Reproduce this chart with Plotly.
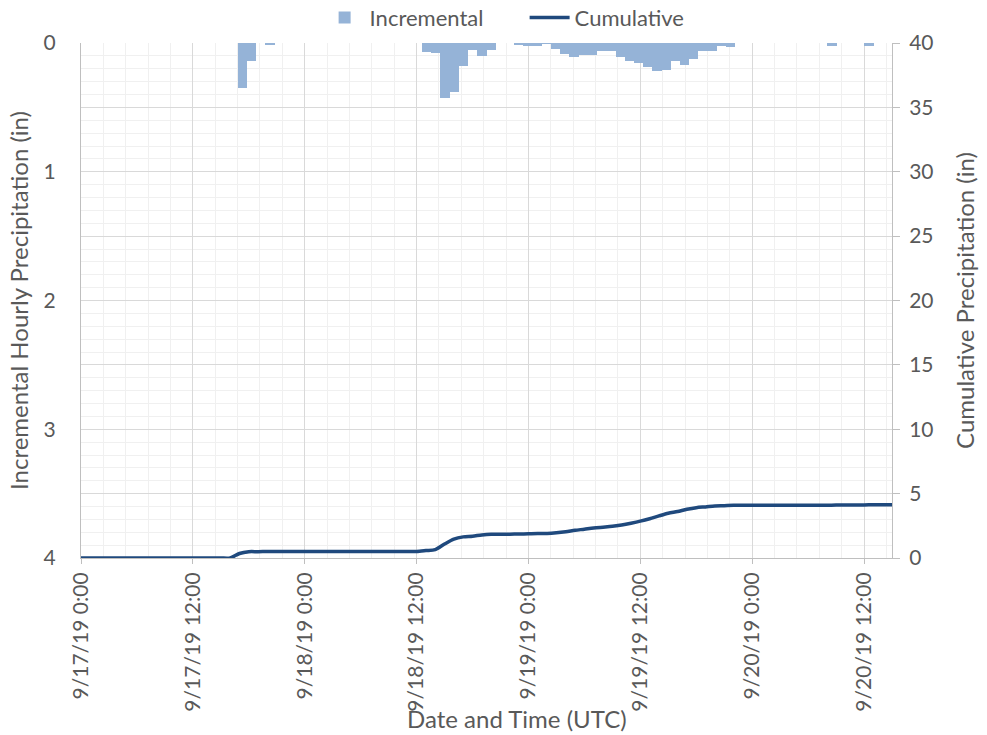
import plotly.graph_objects as go
import pandas as pd

# ---------------- data ----------------
start = pd.Timestamp("2019-09-17 00:00")
hour_index = list(range(88))  # hourly records 9/17/19 0:00 .. 9/20/19 15:00
times = [start + pd.Timedelta(hours=h) for h in hour_index]

incremental = [
    0, 0, 0, 0, 0, 0, 0, 0, 0, 0, 0, 0, 0, 0, 0, 0,            # 0-15
    0, 0.35, 0.14, 0, 0.015, 0, 0, 0, 0, 0, 0, 0, 0, 0, 0, 0,   # 16-31
    0, 0, 0, 0, 0, 0.07, 0.08, 0.43, 0.38, 0.175, 0.055, 0.10, 0.055, 0, 0, 0.012,  # 32-47
    0.02, 0.02, 0.005, 0.05, 0.083, 0.11, 0.09, 0.095, 0.06, 0.064, 0.11, 0.137, 0.155, 0.188, 0.219, 0.206,  # 48-63
    0.14, 0.173, 0.124, 0.059, 0.064, 0.026, 0.031, 0, 0, 0, 0, 0, 0, 0, 0, 0,  # 64-79
    0, 0.026, 0, 0, 0, 0.02, 0, 0,                              # 80-87
]

cumulative = [
    0, 0, 0, 0, 0, 0, 0, 0, 0, 0, 0, 0, 0, 0, 0, 0,
    0, 0.35, 0.49, 0.49, 0.505, 0.505, 0.505, 0.505, 0.505, 0.505, 0.505, 0.505, 0.505, 0.505, 0.505, 0.505,
    0.505, 0.505, 0.505, 0.505, 0.505, 0.575, 0.655, 1.085, 1.465, 1.64, 1.695, 1.795, 1.85, 1.85, 1.85, 1.862,
    1.882, 1.902, 1.907, 1.957, 2.04, 2.15, 2.24, 2.335, 2.395, 2.459, 2.569, 2.706, 2.861, 3.049, 3.268, 3.474,
    3.614, 3.787, 3.911, 3.97, 4.034, 4.06, 4.091, 4.091, 4.091, 4.091, 4.091, 4.091, 4.091, 4.091, 4.091, 4.091,
    4.091, 4.117, 4.117, 4.117, 4.117, 4.137, 4.137, 4.137,
]

x_tick_times = [start + pd.Timedelta(hours=h) for h in range(0, 85, 12)]
x_tick_labels = [
    "9/17/19 0:00", "9/17/19 12:00", "9/18/19 0:00", "9/18/19 12:00",
    "9/19/19 0:00", "9/19/19 12:00", "9/20/19 0:00", "9/20/19 12:00",
]
x_end = start + pd.Timedelta(hours=87)

# ---------------- style ----------------
FONT = "Lato"
TXT = "#595959"
BAR = "#95b3d7"
LINE = "#1f497d"
GRID_MAJ = "#d9d9d9"
GRID_MIN = "#f0f0f0"
AXLINE = "#bfbfbf"
FS_TICK = 21
FS_TITLE = 24
FS_LEG = 22

fig = go.Figure()

# bars: category-style slot axis (x, hidden) against left reversed axis
fig.add_trace(go.Bar(
    x=hour_index, y=incremental, name="Incremental",
    xaxis="x", yaxis="y", width=1,
    marker=dict(color=BAR, line=dict(width=0)),
))

# cumulative line: date axis (x2) against right axis
fig.add_trace(go.Scatter(
    x=times, y=cumulative, name="Cumulative",
    xaxis="x2", yaxis="y2", mode="lines",
    line=dict(color=LINE, width=3.5, shape="spline", smoothing=0.8),
))

fig.update_layout(
    width=987, height=735,
    margin=dict(l=81, r=95, t=43, b=177, autoexpand=False),
    paper_bgcolor="white", plot_bgcolor="white",
    font=dict(family=FONT, size=FS_TICK, color=TXT),
    bargap=0,
    showlegend=True,
    legend=dict(orientation="h", x=0.547, xanchor="center", y=1.049, yanchor="middle",
                font=dict(size=FS_LEG, color=TXT), bgcolor="rgba(0,0,0,0)",
                entrywidth=150, itemwidth=40, borderwidth=0),
    xaxis=dict(
        range=[-0.5, 87.5], visible=False, showgrid=False, zeroline=False,
    ),
    xaxis2=dict(
        overlaying="x", side="bottom",
        type="date", range=[start, x_end],
        tickmode="array", tickvals=x_tick_times, ticktext=x_tick_labels,
        tickangle=-90, ticks="outside", ticklen=5, tickcolor=AXLINE,
        showgrid=True, gridcolor=GRID_MAJ, gridwidth=1,
        minor=dict(dtick=8640000, tick0="2019-09-17 00:00", showgrid=True,
                   gridcolor=GRID_MIN, gridwidth=1, ticks=""),
        showline=True, linecolor=AXLINE, linewidth=1,
        zeroline=False, automargin=False,
        tickfont=dict(size=FS_TICK, color=TXT),
    ),
    yaxis=dict(
        range=[4, 0], tickmode="linear", tick0=0, dtick=1,
        showgrid=False, zeroline=False, ticks="",
        showline=True, linecolor=AXLINE, linewidth=1,
        automargin=False, ticklabelstandoff=20,
        title=dict(text="Incremental Hourly Precipitation (in)", standoff=8,
                   font=dict(size=FS_TITLE, color=TXT)),
        tickfont=dict(size=FS_TICK, color=TXT),
    ),
    yaxis2=dict(
        overlaying="y", side="right", range=[0, 40],
        tickmode="linear", tick0=0, dtick=5,
        showgrid=True, gridcolor=GRID_MAJ, gridwidth=1,
        minor=dict(dtick=1, showgrid=True, gridcolor=GRID_MIN, gridwidth=1, ticks=""),
        ticks="outside", ticklen=7, tickcolor=AXLINE,
        showline=True, linecolor=AXLINE, linewidth=1,
        zeroline=False, automargin=False, ticklabelstandoff=5,
        title=dict(text="Cumulative Precipitation (in)", standoff=24,
                   font=dict(size=FS_TITLE, color=TXT)),
        tickfont=dict(size=FS_TICK, color=TXT),
    ),
    annotations=[dict(
        text="Date and Time (UTC)", xref="paper", yref="paper",
        x=0.538, y=-0.311, xanchor="center", yanchor="middle", showarrow=False,
        font=dict(size=FS_TITLE, color=TXT),
    )],
)

# remove the page's default 8px body margin so the 987x735 figure fills the window
fig.write_html("out.html", config={"displayModeBar": False},
               post_script="document.body.style.margin='0';")
